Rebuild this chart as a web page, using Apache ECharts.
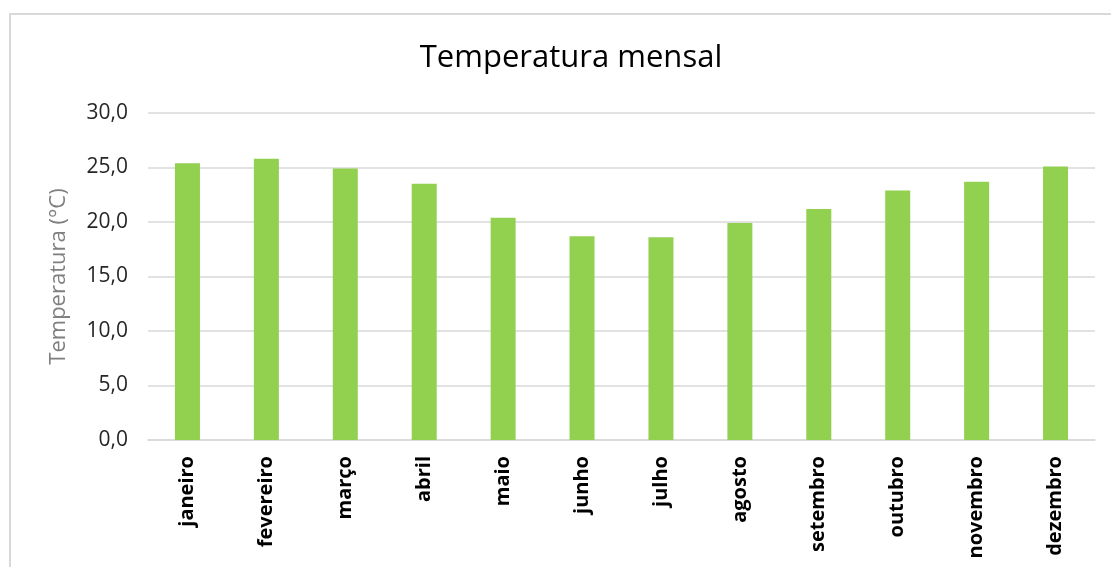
<!DOCTYPE html>
<html>
<head>
<meta charset="utf-8">
<script src="https://cdn.jsdelivr.net/npm/echarts@6/dist/echarts.min.js"></script>
<style>
  html, body { margin: 0; padding: 0; background: #fff; }
  #chart { width: 1111px; height: 567px; }
</style>
</head>
<body>
<div id="chart"></div>
<script>
// Monthly mean temperature (°C)
const months = ['janeiro', 'fevereiro', 'março', 'abril', 'maio', 'junho',
                'julho', 'agosto', 'setembro', 'outubro', 'novembro', 'dezembro'];
const temperatures = [25.4, 25.8, 24.9, 23.5, 20.4, 18.7, 18.6, 19.9, 21.2, 22.9, 23.7, 25.1];
const yTicks = { min: 0, max: 30, step: 5 };

const FONT = '"Open Sans", "Noto Sans", sans-serif';

const chart = echarts.init(document.getElementById('chart'), null, { renderer: 'canvas' });

chart.setOption({
  animation: false,
  backgroundColor: '#ffffff',
  title: {
    text: 'Temperatura mensal',
    left: 566,
    top: 38,
    textAlign: 'center',
    textStyle: { fontFamily: FONT, fontSize: 31, fontWeight: 'normal', color: '#000000' }
  },
  graphic: [{
    type: 'polyline',
    shape: { points: [[10, 567], [10, 14], [1111, 14]] },
    style: { stroke: '#d9d9d9', lineWidth: 2, fill: null },
    silent: true
  }],
  grid: { left: 148, right: 16, top: 113, bottom: 127 },
  xAxis: {
    type: 'category',
    data: months,
    axisLine: { show: true, lineStyle: { color: '#d9d9d9', width: 1.5 } },
    axisTick: { show: false },
    axisLabel: {
      rotate: 90,
      margin: 16,
      fontFamily: FONT,
      fontSize: 20,
      fontWeight: 'bold',
      color: '#000000'
    }
  },
  yAxis: {
    type: 'value',
    min: yTicks.min,
    max: yTicks.max,
    interval: yTicks.step,
    name: 'Temperatura (°C)',
    nameLocation: 'middle',
    nameGap: 78,
    nameTextStyle: { fontFamily: FONT, fontSize: 22, color: '#7f7f7f' },
    axisLine: { show: false },
    axisTick: { show: false },
    splitLine: { lineStyle: { color: '#d9d9d9', width: 1.5 } },
    axisLabel: {
      margin: 20,
      fontFamily: FONT,
      fontSize: 21,
      color: '#262626',
      formatter: v => v.toFixed(1).replace('.', ',')
    }
  },
  series: [{
    type: 'bar',
    data: temperatures,
    barWidth: 25,
    itemStyle: { color: '#92d050' }
  }]
});
</script>
</body>
</html>
